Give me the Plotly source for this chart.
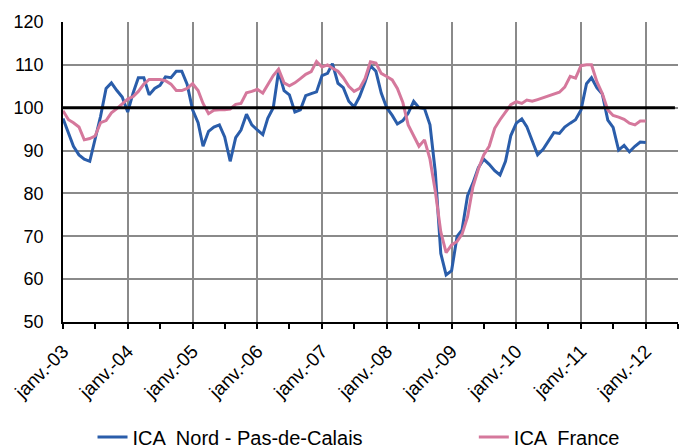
import pandas as pd
import plotly.graph_objects as go

# Monthly categories Jan 2003 .. Jan 2012
months = pd.date_range("2003-01-01", periods=109, freq="MS")

ica_nord = [
    97.5, 94, 91, 89, 88, 87.5, 93, 98, 104.5, 105.8, 104, 102.5,   # 2003
    99, 103.5, 107, 107, 103, 104.5, 105.2, 107.2, 107, 108.5, 108.5, 105.5,  # 2004
    99.5, 96.5, 91, 94.5, 95.5, 96, 93.2, 87.5, 93, 94.8, 98.5, 96,  # 2005
    94.8, 93.7, 97.5, 100, 108.5, 104, 103, 99, 99.5, 102.8, 103.3, 103.7,  # 2006
    107.5, 108, 110.3, 105.7, 104.7, 101.5, 100.2, 102.6, 106, 109.8, 108.5, 103.4,  # 2007
    100, 98.2, 96.2, 97, 98.7, 101.5, 100, 99.8, 96, 85, 66, 61,  # 2008
    62, 70, 71.5, 79.5, 82.4, 86, 88, 86.8, 85.3, 84.3, 87.5, 93.5,  # 2009
    96.4, 97.4, 95.6, 92, 89, 90.3, 92.3, 94.2, 94, 95.5, 96.4, 97.2,  # 2010
    99.5, 105.6, 107, 104.6, 103.2, 97.1, 95.4, 90.1, 91.2, 89.7, 91, 92,  # 2011
    91.9,  # 2012
]

ica_france = [
    99.3, 97.2, 96.5, 95.5, 92.5, 92.8, 93.4, 96.5, 97, 98.8, 99.8, 101,  # 2003
    102, 102.6, 103.8, 105.5, 106.6, 106.6, 106.6, 106.3, 105.5, 104, 104, 104.5,  # 2004
    105.6, 104, 101, 98.6, 99.4, 99.5, 99.5, 99.7, 100.8, 101, 103.5, 103.8,  # 2005
    104.3, 103.4, 105.3, 107.5, 109, 105.8, 105.1, 105.8, 106.8, 107.8, 108.4, 110.8,  # 2006
    109.5, 110, 109.2, 108.5, 107, 105, 103.8, 104.5, 106.8, 110.7, 110.4, 108,  # 2007
    107.3, 106.5, 104.5, 101.2, 96, 93.5, 91, 92.5, 88, 80.5, 71, 66.2,  # 2008
    68, 68.8, 70.5, 74.5, 81.5, 85.7, 89, 91, 95.2, 97.2, 99, 100.7,  # 2009
    101.4, 101, 101.8, 101.5, 101.9, 102.3, 102.7, 103.1, 103.6, 104.8, 107.3, 106.9,  # 2010
    109.8, 110, 110, 106, 103.3, 99.5, 98.2, 97.8, 97.3, 96.4, 96, 96.9,  # 2011
    96.9,  # 2012
]

reference_level = 100

tick_dates = pd.date_range("2003-01-01", periods=10, freq="12MS")
tick_labels = ["janv.-03", "janv.-04", "janv.-05", "janv.-06", "janv.-07",
               "janv.-08", "janv.-09", "janv.-10", "janv.-11", "janv.-12"]
minor_dates = pd.date_range("2003-07-01", periods=10, freq="12MS")

BLUE = "#2A5DAA"
PINK = "#D5789C"
FONT = "Arial, Liberation Sans, sans-serif"

fig = go.Figure()
fig.add_trace(go.Scatter(x=months, y=ica_nord, mode="lines",
                         name="ICA  Nord - Pas-de-Calais", legend="legend",
                         line=dict(color=BLUE, width=3)))
fig.add_trace(go.Scatter(x=months, y=ica_france, mode="lines",
                         name="ICA  France", legend="legend2",
                         line=dict(color=PINK, width=3)))

fig.add_shape(type="line", xref="paper", yref="y", x0=0, x1=0.995,
              y0=reference_level, y1=reference_level,
              line=dict(color="black", width=3), layer="above")

legend_common = dict(orientation="h", xanchor="left", yanchor="middle",
                     y=-0.383, font=dict(size=20), bgcolor="rgba(0,0,0,0)")

fig.update_layout(
    width=679, height=448,
    margin=dict(l=63, r=1, t=22, b=126, autoexpand=False),
    paper_bgcolor="white", plot_bgcolor="white",
    font=dict(family=FONT, size=18, color="black"),
    showlegend=True,
    legend=dict(x=0.048, **legend_common),
    legend2=dict(x=0.668, **legend_common),
    xaxis=dict(
        type="date", automargin=False,
        range=["2003-01-01", "2012-07-01"],
        tickvals=list(tick_dates), ticktext=tick_labels,
        tickangle=-45, tickfont=dict(size=19),
        showgrid=True, gridcolor="#8a8a8a", gridwidth=1.5,
        showline=True, linecolor="black", linewidth=1.5,
        ticks="outside", ticklen=5, tickcolor="black", tickwidth=1.5,
        ticklabelstandoff=4,
        minor=dict(tickvals=list(minor_dates), ticks="outside", ticklen=5,
                   tickcolor="black", tickwidth=1.5, showgrid=False),
        zeroline=False,
    ),
    yaxis=dict(
        range=[50, 120], dtick=10, tick0=50, automargin=False,
        showgrid=True, gridcolor="#8a8a8a", gridwidth=1.5,
        showline=True, linecolor="black", linewidth=1.5,
        ticks="", ticklabelstandoff=14, tickfont=dict(size=18),
        zeroline=False,
    ),
)

fig.write_html("out.html", config={"displayModeBar": False},
               post_script="document.body.style.margin='0px';document.body.style.overflow='hidden';")
